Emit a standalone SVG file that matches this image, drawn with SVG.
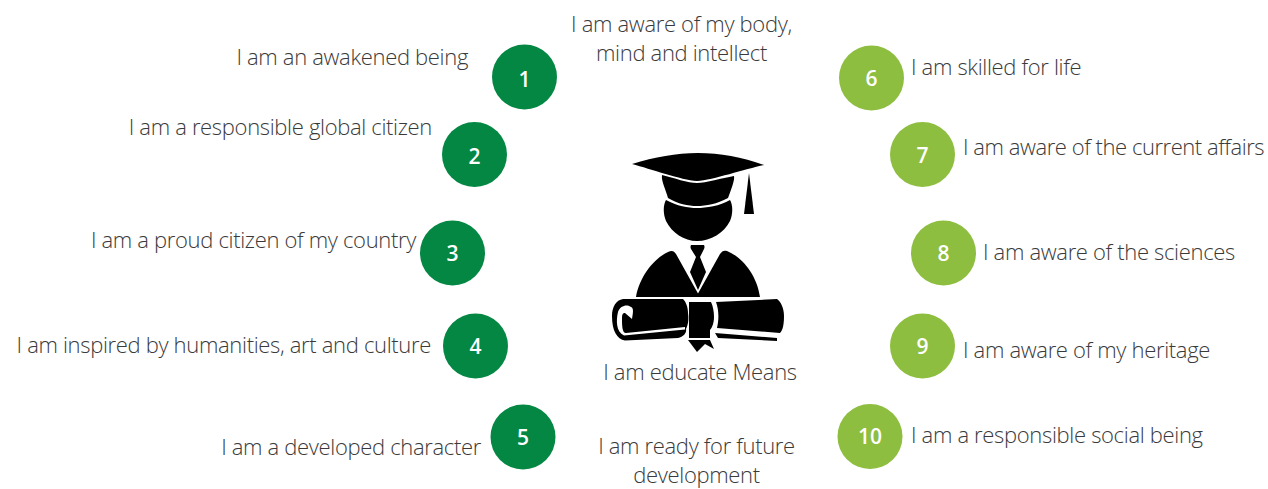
<svg xmlns="http://www.w3.org/2000/svg" width="1268" height="489" viewBox="0 0 1268 489">
<style>
.t{font-family:"Open Sans","Noto Sans","Liberation Sans",sans-serif;font-weight:300;font-size:22px;letter-spacing:-0.33px;fill:#3a3a3a}
.n{font-family:"Open Sans","Noto Sans","Liberation Sans",sans-serif;font-weight:600;font-size:21px;fill:#fff;text-anchor:middle}
.d{fill:#038743}.l{fill:#8dbe3f}.m{text-anchor:middle}.e{text-anchor:end}
</style>
<rect width="1268" height="489" fill="#fff"/>
<g id="connectors"/>
<g id="node-1"><circle class="d" cx="524.500" cy="77" r="32.500"/><text class="n" x="524.500" y="86.500">1</text><text class="t e" x="468" y="65">I am an awakened being</text></g>
<g id="node-2"><circle class="d" cx="474.500" cy="154.500" r="32.500"/><text class="n" x="474.500" y="164">2</text><text class="t e" x="432" y="135">I am a responsible global citizen</text></g>
<g id="node-3"><circle class="d" cx="452.500" cy="253" r="32.500"/><text class="n" x="452.500" y="261">3</text><text class="t e" x="416" y="248">I am a proud citizen of my country</text></g>
<g id="node-4"><circle class="d" cx="475.500" cy="346" r="32.500"/><text class="n" x="475.500" y="354">4</text><text class="t e" x="431" y="353">I am inspired by humanities, art and culture</text></g>
<g id="node-5"><circle class="d" cx="523" cy="437" r="32.500"/><text class="n" x="523" y="445">5</text><text class="t e" x="481" y="455">I am a developed character</text></g>
<g id="node-6"><circle class="l" cx="871.500" cy="78" r="32.500"/><text class="n" x="871.500" y="86">6</text><text class="t" x="911" y="75">I am skilled for life</text></g>
<g id="node-7"><circle class="l" cx="922.500" cy="154.500" r="32.500"/><text class="n" x="922.500" y="163">7</text><text class="t" x="963" y="155" style="letter-spacing:-0.45px">I am aware of the current affairs</text></g>
<g id="node-8"><circle class="l" cx="943.500" cy="253" r="32.500"/><text class="n" x="943.500" y="261">8</text><text class="t" x="983" y="260">I am aware of the sciences</text></g>
<g id="node-9"><circle class="l" cx="922.500" cy="346" r="32.500"/><text class="n" x="922.500" y="354">9</text><text class="t" x="963" y="358">I am aware of my heritage</text></g>
<g id="node-10"><circle class="l" cx="870" cy="436.500" r="32.500"/><text class="n" x="870" y="444">10</text><text class="t" x="911" y="443">I am a responsible social being</text></g>
<g id="label-top"><text class="t m" x="681.500" y="32">I am aware of my body,</text><text class="t m" x="681.500" y="61">mind and intellect</text></g>
<g id="label-bottom"><text class="t m" x="696.500" y="454">I am ready for future</text><text class="t m" x="696.500" y="483">development</text></g>
<g id="label-center"><text class="t m" x="700" y="380">I am educate Means</text></g>
<g id="graduate" fill="#000">
<path d="M632 164C655 157 676 153 698 153C720 153 742 157 764 165C745 169 713 180 697 181C681 180 651 169 632 164Z"/>
<path d="M662 175C674 178 688 183 697 183C706 183 722 178 734 176C735 180 731 190 728 198C717 204 706 206 697 206C688 206 678 204 668 198C666 190 661 181 662 175Z"/>
<path d="M666 200C677 206 688 208 697 208C706 208 720 206 730 200C733 205 733 214 730 221C724 233 711 241 697 241C684 241 672 233 666 221C663 214 663 205 666 200Z"/>
<path d="M749 173L754 214H744Z"/>
<path d="M691 245H704Q705 247 704 249L700 257L706 272L698 290L690 272L696 257L691 249Q690 247 691 245Z"/>
<path d="M636 297C640 275 655 258 668 252C672 250 674 251 676 254L698 293.500L720 254C722 251 724 250 727 251C742 257 757 275 760 297Z"/>
<path d="M623 299H683C686 302 688 307 688 313C689 320 688 325 686 329C687 333 683 337 678 338L625 340.500C617 339 612 331 612 316C612 307 616 300 623 299Z"/>
<path d="M685 327L626 333C622 333 622 325 622 318C622 314 623 313 625 313L632 319C633 313 634 308 631 307C628 304 620 305 618 312C616 320 616 332 624 335.500L685 329.500Z" fill="#fff"/>
<path d="M689 302H711C713 306 714 312 714 317C714 323 712 328 710 330V338H689Z"/>
<path d="M716 302L777 299C781 302 784 308 784 316C784 324 783 330 780 333L717 328C719 320 719 310 716 302Z"/>
<path d="M715 333L777 338V341L718 338Z"/>
<path d="M688 340H710L714 349L705 344L697 352L691 344Z"/>
</g>
</svg>
